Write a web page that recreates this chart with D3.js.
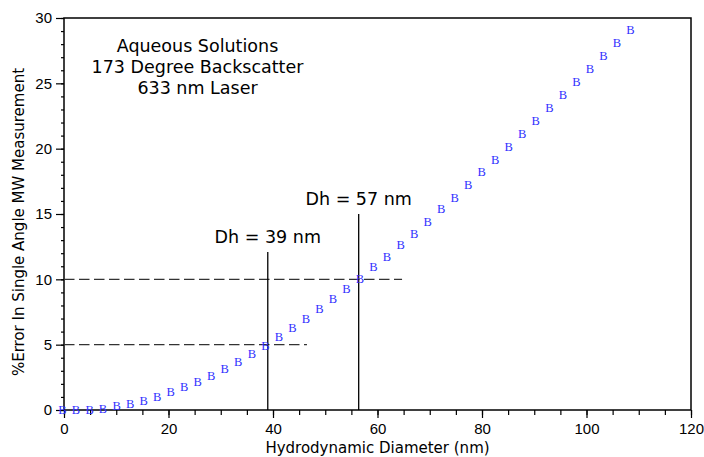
<!DOCTYPE html>
<html lang="en">
<head>
    <meta charset="UTF-8">
    <title>Single Angle MW Error</title>
    <script src="https://d3js.org/d3.v7.min.js"></script>
    <style>
        body {
            margin: 0;
            background-color: #fff;
            font-family: Verdana, "DejaVu Sans", sans-serif;
        }
        .tick text {
            font-size: 15px;
            fill: #000;
        }
        .note {
            font-size: 17.5px;
            text-anchor: middle;
            fill: #000;
        }
        .axis-title {
            font-size: 15px;
            text-anchor: middle;
            fill: #000;
        }
        .marker {
            font-family: "Liberation Serif", "Times New Roman", serif;
            font-size: 12.5px;
            fill: #3030ff;
            text-anchor: middle;
        }
    </style>
</head>
<body>
    <svg id="chart" width="704" height="457"></svg>
    <script>
        // hydrodynamic diameter (nm)
        const diameter = [0, 2.59, 5.18, 7.76, 10.35, 12.94, 15.53, 18.12, 20.70, 23.29,
            25.88, 28.47, 31.06, 33.64, 36.23, 38.82, 41.41, 44.00, 46.58, 49.17,
            51.76, 54.35, 56.94, 59.52, 62.11, 64.70, 67.29, 69.88, 72.46, 75.05,
            77.64, 80.23, 82.82, 85.40, 87.99, 90.58, 93.17, 95.76, 98.34, 100.93,
            103.52, 106.11, 108.70];
        // % error in single angle MW measurement
        const pctError = [0.0, 0.02, 0.06, 0.12, 0.30, 0.52, 0.73, 0.99, 1.41, 1.78,
            2.17, 2.64, 3.18, 3.68, 4.30, 4.96, 5.58, 6.27, 6.96, 7.73,
            8.49, 9.26, 10.03, 10.95, 11.77, 12.63, 13.51, 14.45, 15.40, 16.29,
            17.27, 18.24, 19.19, 20.18, 21.14, 22.12, 23.12, 24.15, 25.10, 26.12,
            27.11, 28.11, 29.11];

        const xTicks = [0, 20, 40, 60, 80, 100, 120];
        const yTicks = [0, 5, 10, 15, 20, 25, 30];

        // reference lines
        const dhLines = [{ x: 39, top: 12.1, label: "Dh = 39 nm" }, { x: 56.4, top: 15, label: "Dh = 57 nm" }];
        const errLines = [{ y: 5, end: 46.5 }, { y: 10, end: 64.7 }];
        const notes = ["Aqueous Solutions", "173 Degree Backscatter", "633 nm Laser"];

        const width = 704, height = 457;
        const margin = { top: 18, right: 13, bottom: 47, left: 64 };

        const svg = d3.select("#chart");

        const x = d3.scaleLinear().domain([0, 120]).range([margin.left, width - margin.right]);
        const y = d3.scaleLinear().domain([0, 30]).range([height - margin.bottom, margin.top]);

        // minor ticks
        svg.append("g")
            .attr("transform", `translate(0, ${y(0)})`)
            .call(d3.axisBottom(x).tickValues(d3.range(0, 121, 5)).tickSize(5).tickFormat(""))
            .call(g => g.select(".domain").remove());
        svg.append("g")
            .attr("transform", `translate(${x(0)}, 0)`)
            .call(d3.axisLeft(y).tickValues(d3.range(0, 31, 1)).tickSize(3).tickFormat(""))
            .call(g => g.select(".domain").remove());

        // major ticks
        svg.append("g")
            .attr("transform", `translate(0, ${y(0)})`)
            .call(d3.axisBottom(x).tickValues(xTicks).tickSize(8).tickPadding(5))
            .call(g => g.select(".domain").remove());
        svg.append("g")
            .attr("transform", `translate(${x(0)}, 0)`)
            .call(d3.axisLeft(y).tickValues(yTicks).tickSize(8).tickPadding(4))
            .call(g => g.select(".domain").remove());

        svg.selectAll(".tick line").attr("stroke", "#000").attr("stroke-width", 1.2);

        // frame
        svg.append("rect")
            .attr("x", x(0)).attr("y", y(30))
            .attr("width", x(120) - x(0)).attr("height", y(0) - y(30))
            .attr("fill", "none").attr("stroke", "#000").attr("stroke-width", 1.5);

        // dashed lines
        svg.selectAll("line.err")
            .data(errLines)
            .enter().append("line")
            .attr("class", "err")
            .attr("x1", x(0)).attr("x2", d => x(d.end))
            .attr("y1", d => y(d.y)).attr("y2", d => y(d.y))
            .attr("stroke", "#333").attr("stroke-width", 1.4)
            .attr("stroke-dasharray", "10.5,4.5");

        // vertical lines
        svg.selectAll("line.dh")
            .data(dhLines)
            .enter().append("line")
            .attr("class", "dh")
            .attr("x1", d => x(d.x)).attr("x2", d => x(d.x))
            .attr("y1", y(0)).attr("y2", d => y(d.top))
            .attr("stroke", "#000").attr("stroke-width", 1.3);

        svg.selectAll("text.dh")
            .data(dhLines)
            .enter().append("text")
            .attr("class", "note")
            .attr("x", d => x(d.x))
            .attr("y", d => y(d.top) - 9)
            .text(d => d.label);

        // data markers
        svg.selectAll("text.marker")
            .data(diameter.map((d, i) => ({ d, e: pctError[i] })))
            .enter().append("text")
            .attr("class", "marker")
            .attr("x", p => x(p.d))
            .attr("y", p => y(p.e))
            .attr("dx", -1.5)
            .attr("dy", "0.35em")
            .text("B");

        // notes
        svg.selectAll("text.title-note")
            .data(notes)
            .enter().append("text")
            .attr("class", "note")
            .attr("x", 197.5)
            .attr("y", (d, i) => 52 + i * 21)
            .text(d => d);

        // axis titles
        svg.append("text")
            .attr("class", "axis-title")
            .attr("x", (x(0) + x(120)) / 2)
            .attr("y", 453)
            .text("Hydrodynamic Diameter (nm)");

        svg.append("text")
            .attr("class", "axis-title")
            .attr("transform", `translate(24, ${(y(0) + y(30)) / 2 + 8}) rotate(-90)`)
            .text("%Error In Single Angle MW Measurement");
    </script>
</body>
</html>
